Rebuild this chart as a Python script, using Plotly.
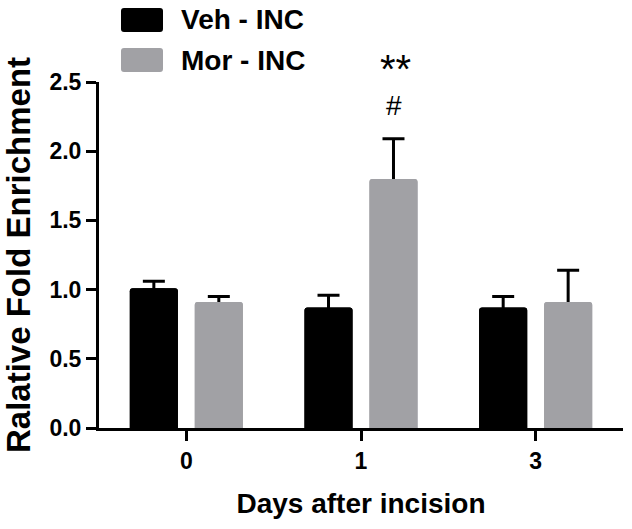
import plotly.graph_objects as go

# ---- data ----
days = ["0", "1", "3"]
veh_mean = [1.01, 0.87, 0.87]
veh_err = [0.05, 0.09, 0.08]
mor_mean = [0.91, 1.80, 0.91]
mor_err = [0.04, 0.29, 0.23]
series_names = ["Veh - INC", "Mor - INC"]
y_ticks = [0.0, 0.5, 1.0, 1.5, 2.0, 2.5]

# ---- styling ----
W, H = 632, 529
L, R, T, B = 99, 9, 82, 101
FONT = "Liberation Sans, Arial, Helvetica, sans-serif"
BLACK = "#000000"
GRAY = "#a1a1a5"


def px(x):
    return (x - L) / (W - L - R)


def py(y):
    return (H - B - y) / (H - T - B)


def rounded_rect(x0, y0, x1, y1, r):
    """SVG path (paper coords) of a rounded rectangle given in pixels."""
    pts = [
        ("M", x0 + r, y0), ("L", x1 - r, y0), ("Q", x1, y0, x1, y0 + r),
        ("L", x1, y1 - r), ("Q", x1, y1, x1 - r, y1), ("L", x0 + r, y1),
        ("Q", x0, y1, x0, y1 - r), ("L", x0, y0 + r), ("Q", x0, y0, x0 + r, y0),
    ]
    out = []
    for p in pts:
        cmd, coords = p[0], p[1:]
        xy = []
        for j in range(0, len(coords), 2):
            xy.append(f"{px(coords[j]):.5f},{py(coords[j + 1]):.5f}")
        out.append(cmd + " ".join(xy))
    return " ".join(out) + " Z"


fig = go.Figure()
series = [
    (series_names[0], veh_mean, veh_err, BLACK, "veh"),
    (series_names[1], mor_mean, mor_err, GRAY, "mor"),
]
# bars carrying the (upper) error bars
for name, vals, errs, col, grp in series:
    fig.add_trace(go.Bar(
        x=days, y=vals, name=name, offsetgroup=grp,
        marker=dict(color=col, line=dict(width=0)),
        error_y=dict(type="data", array=errs, arrayminus=[0.013] * len(errs),
                     symmetric=False, color=BLACK, thickness=3, width=11),
        showlegend=False,
    ))
# same bars drawn again on top, hiding the lower end of the error bars
for name, vals, errs, col, grp in series:
    fig.add_trace(go.Bar(
        x=days, y=vals, name=name, offsetgroup=grp,
        marker=dict(color=col, line=dict(width=0)),
        showlegend=False, hoverinfo="skip",
    ))

fig.update_layout(
    width=W, height=H, autosize=False,
    margin=dict(l=L, r=R, t=T, b=B, pad=0),
    plot_bgcolor="white", paper_bgcolor="white",
    barmode="group", bargap=0.256, bargroupgap=0.26, barcornerradius=3,
    font=dict(family=FONT, color=BLACK),
)

fig.update_xaxes(
    type="category", categoryorder="array", categoryarray=days, automargin=False,
    showline=True, linewidth=3, linecolor=BLACK, showgrid=False, zeroline=False,
    ticks="outside", ticklen=10, tickwidth=3, tickcolor=BLACK,
    tickfont=dict(size=23, weight="bold", family=FONT),
    title=dict(text="Days after incision", font=dict(size=28, weight="bold", family=FONT), standoff=21),
)
fig.update_yaxes(
    range=[0, 2.5], tickvals=y_ticks, tickformat=".1f", automargin=False,
    showline=True, linewidth=3, linecolor=BLACK, showgrid=False, zeroline=False,
    ticks="outside", ticklen=10, tickwidth=3, tickcolor=BLACK,
    tickfont=dict(size=23, weight="bold", family=FONT),
    title=dict(text="Ralative Fold Enrichment", font=dict(size=33, weight="bold", family=FONT), standoff=16),
)

# legend drawn manually (large swatches)
for i, (name, col) in enumerate(zip(series_names, [BLACK, GRAY])):
    y0, y1 = 8 + 40 * i, 32 + 40 * i
    fig.add_shape(type="path", xref="paper", yref="paper",
                  path=rounded_rect(121, y0, 163, y1, 3),
                  fillcolor=col, line=dict(width=0))
    fig.add_annotation(xref="paper", yref="paper", x=px(179), y=py((y0 + y1) / 2),
                       xanchor="left", yanchor="middle", showarrow=False,
                       text=name, font=dict(size=28, weight="bold", family=FONT))

# significance marks above Mor - INC at day 1
top = mor_mean[1] + mor_err[1]
fig.add_annotation(x=days[1], y=top, xref="x", yref="y", xshift=33, yshift=16,
                   yanchor="bottom", showarrow=False, text="#",
                   font=dict(size=28, family=FONT))
fig.add_annotation(x=days[1], y=top, xref="x", yref="y", xshift=34, yshift=46,
                   yanchor="bottom", showarrow=False, text="**",
                   font=dict(size=40, family=FONT))

fig.write_html("out.html", config={"displayModeBar": False},
               post_script="document.body.style.margin='0';document.body.style.overflow='hidden';")
